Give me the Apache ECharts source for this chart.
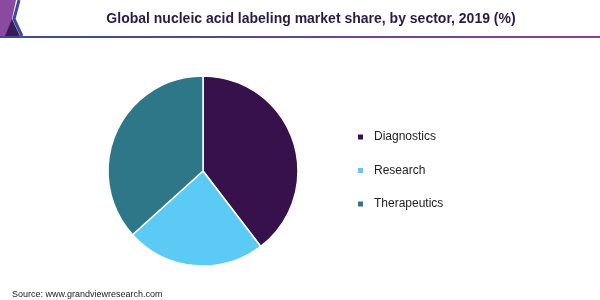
<!DOCTYPE html>
<html><head><meta charset="utf-8">
<script src="https://cdn.jsdelivr.net/npm/echarts@6/dist/echarts.min.js"></script>
<style>html,body{margin:0;padding:0;background:#fff}#c{width:600px;height:300px}</style>
</head><body><div id="c"></div>
<script>
const categories = ['Diagnostics', 'Research', 'Therapeutics'];
const shares = [39.6, 23.7, 36.7];
const colors = ['#37114b', '#5bcbf5', '#2e7789'];

const chart = echarts.init(document.getElementById('c'), null, {renderer: 'canvas'});
chart.setOption({
  animation: false,
  legend: {
    orient: 'vertical', left: 351, top: 126, itemGap: 21.5,
    itemWidth: 7, itemHeight: 7, icon: 'rect',
    textStyle: {fontFamily: 'Liberation Sans, Arial', fontSize: 12, color: '#222', padding: [0, 0, 0, 5]},
    data: categories
  },
  graphic: [
    {type: 'rect', shape: {x: 0, y: 36, width: 600, height: 2},
     style: {fill: new echarts.graphic.LinearGradient(0, 0, 1, 0, [{offset: 0, color: '#3b4aa0'}, {offset: 1, color: '#8a3fa0'}])}},
    {type: 'polygon', shape: {points: [[0, 0], [16, 0], [12, 19], [16, 36], [0, 36]]}, style: {fill: '#8a4aa0'}},
    {type: 'polygon', shape: {points: [[12, 19], [20, 36], [5, 36]]}, style: {fill: '#3c1a5a'}},
    {type: 'polyline', shape: {points: [[19, 0], [14, 19], [22, 36]]}, style: {stroke: '#3b4aa0', lineWidth: 3, fill: null}},
    {type: 'text', x: 311, y: 19,
     style: {text: 'Global nucleic acid labeling market share, by sector, 2019 (%)', fontFamily: 'Liberation Sans, Arial',
             fontSize: 14, fontWeight: 'bold', fill: '#2b1a45', textAlign: 'center', textVerticalAlign: 'middle'}},
    {type: 'text', left: 12, top: 290,
     style: {text: 'Source: www.grandviewresearch.com', fontFamily: 'Liberation Sans, Arial', fontSize: 9, fill: '#222'}}
  ],
  series: [{
    type: 'pie', center: [203, 171], radius: 95, startAngle: 90, clockwise: true,
    label: {show: false}, labelLine: {show: false},
    itemStyle: {borderColor: '#fff', borderWidth: 1.5},
    data: categories.map((n, i) => ({name: n, value: shares[i], itemStyle: {color: colors[i]}}))
  }]
});
</script></body></html>
